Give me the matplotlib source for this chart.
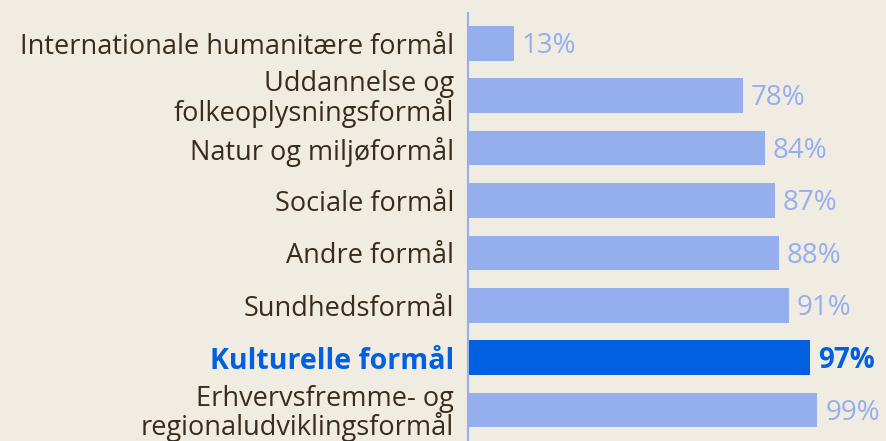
import matplotlib.pyplot as plt

categories = [
    "Internationale humanitære formål",
    "Uddannelse og\nfolkeoplysningsformål",
    "Natur og miljøformål",
    "Sociale formål",
    "Andre formål",
    "Sundhedsformål",
    "Kulturelle formål",
    "Erhvervsfremme- og\nregionaludviklingsformål",
]
values = [13, 78, 84, 87, 88, 91, 97, 99]
highlight = "Kulturelle formål"

bg = "#F1ECE2"
light = "#94AEEE"
strong = "#0060E0"
text_col = "#3A2C1C"

plt.rcParams['font.family'] = ['Open Sans', 'DejaVu Sans']

fig = plt.figure(figsize=(8.87, 4.41), dpi=100, facecolor=bg)
ax = fig.add_axes([468 / 887, 0, 1 - 468 / 887, 1 - 13 / 441])
ax.set_facecolor(bg)

ypos = list(range(len(categories)))
colors = [strong if c == highlight else light for c in categories]
ax.barh(ypos, values, height=0.66, color=colors)

for y, v, c in zip(ypos, values, categories):
    hl = c == highlight
    ax.text(v + 2.2, y + 0.05, f"{v}%", va="center", ha="left", fontsize=20,
            color=strong if hl else light, fontweight="bold" if hl else "normal")

ax.set_yticks(ypos)
ax.set_yticklabels(categories, fontsize=19.5, linespacing=0.98)
for lab, c in zip(ax.get_yticklabels(), categories):
    if c == highlight:
        lab.set_color(strong)
        lab.set_fontweight("bold")
        lab.set_fontsize(20.5)
    else:
        lab.set_color(text_col)
ax.tick_params(axis="y", length=0, pad=10)
ax.tick_params(axis="x", bottom=False, labelbottom=False)

ax.set_xlim(0, 118.7)
ax.set_ylim(7.59, -0.58)
for s in ["top", "right", "bottom"]:
    ax.spines[s].set_visible(False)
ax.spines["left"].set_color(light)
ax.spines["left"].set_linewidth(1.5)

fig.savefig("out.png", dpi=100, facecolor=bg)
